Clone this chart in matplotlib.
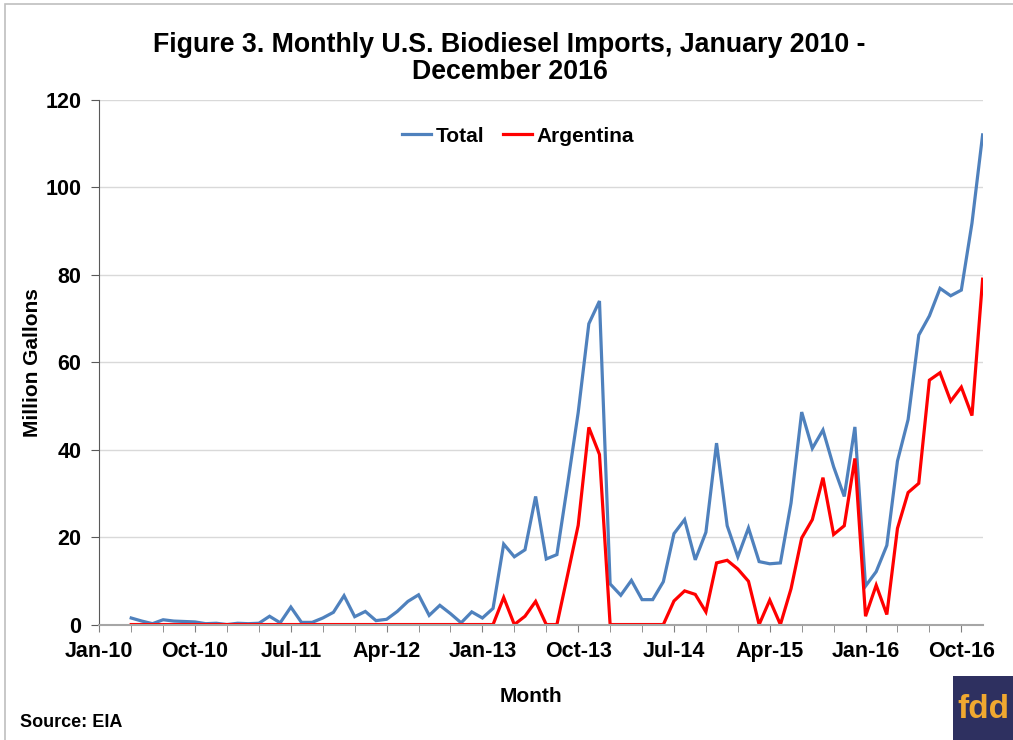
import matplotlib
matplotlib.use("Agg")
import matplotlib.pyplot as plt
from matplotlib.patches import Rectangle
import numpy as np

plt.rcParams['font.family'] = ['Liberation Sans', 'DejaVu Sans']

# ---- data (million gallons), monthly Apr-2010 .. Dec-2016 ----
first_month_index = 3  # months after Jan-2010 (Jan-Mar 2010 empty)
total = [1.5, 0.8, 0.2, 1.1, 0.8, 0.7, 0.6, 0.2, 0.3,
         0.0, 0.3, 0.2, 0.3, 1.9, 0.4, 4.0, 0.5, 0.5, 1.5, 2.8, 6.6,
         1.8, 3.0, 0.9, 1.2, 3.0, 5.3, 6.8, 2.1, 4.4, 2.5, 0.4, 2.9,
         1.5, 3.7, 18.4, 15.5, 17.1, 29.3, 15.0, 16.0, 32.0, 48.5, 68.8, 74.0,
         9.3, 6.7, 10.1, 5.7, 5.7, 9.8, 20.8, 24.0, 14.8, 21.1, 41.5, 22.6,
         15.5, 22.1, 14.4, 13.9, 14.1, 27.8, 48.6, 40.3, 44.5, 36.1, 29.3, 45.2,
         8.8, 12.1, 18.1, 37.4, 46.9, 66.2, 70.6, 76.9, 75.2, 76.5, 91.8, 112.0]
argentina = [0, 0, 0, 0, 0, 0, 0, 0, 0,
             0, 0, 0, 0, 0, 0, 0, 0, 0, 0, 0, 0,
             0, 0, 0, 0, 0, 0, 0, 0, 0, 0, 0, 0,
             0, 0, 6.2, 0, 1.9, 5.3, 0, 0, 11.3, 22.7, 45.1, 38.9,
             0, 0, 0, 0, 0, 0, 5.4, 7.7, 6.9, 2.9, 14.1, 14.7,
             12.7, 9.9, 0, 5.6, 0, 8.2, 19.8, 24.0, 33.6, 20.6, 22.6, 38.0,
             1.9, 9.0, 2.3, 22.0, 30.2, 32.3, 55.9, 57.6, 51.1, 54.3, 47.8, 79.0]
tick_labels = ["Jan-10", "Oct-10", "Jul-11", "Apr-12", "Jan-13",
               "Oct-13", "Jul-14", "Apr-15", "Jan-16", "Oct-16"]
n_months_axis = 84

x = np.arange(first_month_index, first_month_index + len(total))

fig = plt.figure(figsize=(10.13, 7.40), dpi=100)
ax = fig.add_axes([0.098, 0.156, 0.872, 0.709])

ax.plot(x, total, color='#4f81bd', lw=2.3, label='Total', solid_joinstyle='miter')
ax.plot(x, argentina, color='#ff0000', lw=2.3, label='Argentina', solid_joinstyle='miter')

ax.set_xlim(0, n_months_axis - 1)
ax.set_ylim(0, 120)
ax.set_yticks(np.arange(0, 121, 20))
ax.set_xticks(np.arange(0, n_months_axis, 9))
ax.set_xticklabels(tick_labels)
ax.set_xticks(np.arange(0, n_months_axis - 1, 3), minor=True)

ax.grid(axis='y', color='#d9d9d9', lw=1)
ax.set_axisbelow(True)
for s in ['top', 'right']:
    ax.spines[s].set_visible(False)
ax.spines['left'].set_color('#595959')
ax.spines['bottom'].set_color('#a6a6a6')
ax.spines['bottom'].set_linewidth(1.5)
ax.tick_params(axis='y', length=6, color='#595959', labelsize=15.5, pad=7)
ax.tick_params(axis='x', which='both', length=5, color='#808080', labelsize=15.5, pad=7)
for lab in ax.get_xticklabels() + ax.get_yticklabels():
    lab.set_fontweight('bold')

ax.set_ylabel('Million Gallons', fontsize=15, fontweight='bold')
ax.yaxis.set_label_coords(-0.076, 0.5)
ax.set_xlabel('Month', fontsize=15, fontweight='bold')
ax.xaxis.set_label_coords(0.489, -0.138)
ax.xaxis.label.set_va('center')
ax.yaxis.label.set_va('center')

leg = ax.legend(loc='upper center', bbox_to_anchor=(0.474, 0.985), ncol=2, frameon=False,
                prop={'weight': 'bold', 'size': 15}, handlelength=1.4,
                handletextpad=0.2, columnspacing=0.9)

fig.text(0.503, 0.921, 'Figure 3. Monthly U.S. Biodiesel Imports, January 2010 -\nDecember 2016',
         ha='center', va='center', fontsize=19.3, fontweight='bold', linespacing=1.05)
fig.text(0.02, 0.024, 'Source: EIA', fontsize=13, fontweight='bold', ha='left', va='center')

# chart area border (left/top visible)
fig.add_artist(Rectangle((5 / 1013, -0.1), 1.2, 1.1 - 4 / 740, transform=fig.transFigure,
                         fill=False, edgecolor='#bfbfbf', lw=1.2))

# logo box
fig.add_artist(Rectangle((953 / 1013, 0), 60 / 1013, 64 / 740, transform=fig.transFigure,
                         facecolor='#2e3060', edgecolor='none'))
fig.text(983 / 1013, 30 / 740, 'fdd', color='#f0a830', fontsize=24, fontweight='bold',
         ha='center', va='center')

fig.savefig('out.png', dpi=100)
